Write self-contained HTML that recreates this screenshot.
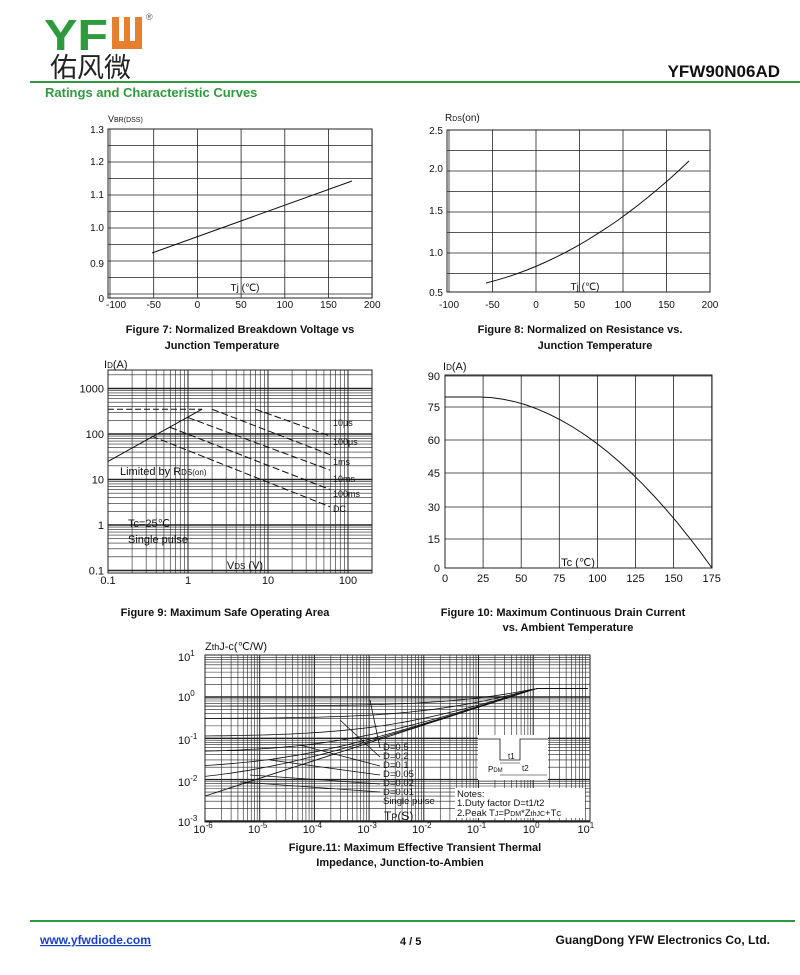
<!DOCTYPE html>
<html><head><meta charset="utf-8"><style>
body{margin:0;background:#fff;width:800px;height:975px;overflow:hidden;position:relative;font-family:"Liberation Sans",Arial,sans-serif}
svg{position:absolute;left:0;top:0}
</style></head><body>
<svg id="s" width="800" height="975" xmlns="http://www.w3.org/2000/svg" font-family="Liberation Sans, Arial, sans-serif">
<text x="44" y="50" font-size="44" font-weight="bold" fill="#2e9a3e" textLength="64" lengthAdjust="spacingAndGlyphs">YF</text>
<rect x="112" y="17" width="30" height="32" fill="#e87f2c"/>
<rect x="119" y="17" width="5" height="24" fill="#fff"/><rect x="130" y="17" width="5" height="24" fill="#fff"/>
<text x="146" y="20" font-size="9" fill="#555">®</text>
<text x="50" y="77" font-size="27" font-family="Noto Sans CJK SC, sans-serif" fill="#222">佑风微</text>
<rect x="30" y="81" width="770" height="2" fill="#2e9a3e"/>
<text x="780" y="77" font-size="17" font-weight="bold" text-anchor="end" fill="#111">YFW90N06AD</text>
<text x="45" y="97" font-size="13" font-weight="bold" fill="#2e9a3e">Ratings and Characteristic Curves</text>
<g font-size="11" font-weight="bold" text-anchor="middle" fill="#111">
<text x="240" y="333">Figure 7: Normalized Breakdown Voltage vs</text>
<text x="222" y="349">Junction Temperature</text>
<text x="580" y="333">Figure 8: Normalized on Resistance vs.</text>
<text x="595" y="349">Junction Temperature</text>
<text x="225" y="616">Figure 9: Maximum Safe Operating Area</text>
<text x="563" y="616">Figure 10: Maximum Continuous Drain Current</text>
<text x="568" y="631">vs. Ambient Temperature</text>
<text x="415" y="851">Figure.11: Maximum Effective Transient Thermal</text>
<text x="400" y="866">Impedance, Junction-to-Ambien</text>
</g>
<rect x="30" y="920" width="765" height="2" fill="#2e9a3e"/>
<text x="40" y="944" font-size="12" font-weight="bold" fill="#1a3fbf" text-decoration="underline">www.yfwdiode.com</text>
<text x="400" y="945" font-size="11" font-weight="bold" fill="#111">4 / 5</text>
<text x="770" y="944" font-size="12" font-weight="bold" text-anchor="end" fill="#111">GuangDong YFW Electronics Co, Ltd.</text>
<g id="g"></g>
</svg>
<script>
var g=document.getElementById('g'),o='';
function L(x1,y1,x2,y2,w,c,d){o+='<line x1="'+x1+'" y1="'+y1+'" x2="'+x2+'" y2="'+y2+'" stroke="'+(c||'#222')+'" stroke-width="'+(w||0.8)+'"'+(d?' stroke-dasharray="'+d+'"':'')+'/>';}
function T(x,y,t,s,a){o+='<text x="'+x+'" y="'+y+'" font-size="'+(s||11)+'" text-anchor="'+(a||'middle')+'" fill="#111">'+t+'</text>';}
function P(pts,w,d){o+='<polyline fill="none" stroke="#111" stroke-width="'+(w||1)+'"'+(d?' stroke-dasharray="'+d+'"':'')+' points="'+pts.map(p=>p[0].toFixed(1)+','+p[1].toFixed(1)).join(' ')+'"/>';}
function R(x1,y1,x2,y2){o+='<rect x="'+x1+'" y="'+y1+'" width="'+(x2-x1)+'" height="'+(y2-y1)+'" fill="none" stroke="#222" stroke-width="1"/>';}
// Fig7
var x0=108,x1=372,y0=129,y1=298;
for(var i=0;i<=6;i++){var x=110+i*43.7;L(x,y0,x,y1);T(x+(i==0?6:0),308,[-100,-50,0,50,100,150,200][i],10);}
for(var y=y0;y<=y1;y+=16.5)L(x0,y,x1,y);
R(x0,y0,x1,y1);
[[1.3,129],[1.2,161],[1.1,194],[1.0,227],[0.9,263],[0,298]].forEach(a=>T(104,a[1]+4,a[0]==0?'0':a[0].toFixed(1),10,'end'));
T(108,122,'V<tspan font-size="7">BR(DSS)</tspan>',9,'start');
L(152,253,352,181,1,'#111');T(245,291,'Tj (℃)',10);
// Fig8
x0=447;x1=710;y0=130;y1=292;
for(i=0;i<=6;i++){x=449+i*43.5;L(x,y0,x,y1);T(x,308,[-100,-50,0,50,100,150,200][i],10);}
for(y=y0;y<=y1;y+=20.5)L(x0,y,x1,y);
R(x0,y0,x1,y1);
[['2.5',130],['2.0',168],['1.5',210],['1.0',252],['0.5',292]].forEach(a=>T(443,a[1]+4,a[0],10,'end'));
T(445,121,'R<tspan font-size="7">DS</tspan>(on)',10,'start');
var pts=[];for(i=0;i<=20;i++){var t=i/20;pts.push([486+203*t,283-(50*t+72*t*t)]);}P(pts,1);
T(585,290,'Tj (℃)',10);
// Fig9
function X9(v){return 108+Math.log10(v/0.1)*80;}function Y9(v){return 525-Math.log10(v)*45.5;}
x0=108;x1=372;y0=370;y1=573;
for(var d=-1;d<3;d++)for(var k=1;k<10;k++){x=X9(k*Math.pow(10,d));if(x<=x1)L(x,y0,x,y1,k==1?1:0.6);}
for(d=-1;d<4;d++)for(k=1;k<10;k++){y=Y9(k*Math.pow(10,d));if(y>=y0&&y<=y1)L(x0,y,x1,y,k==1?1.6:0.6);}
R(x0,y0,x1,y1);
[['1000',1000],['100',100],['10',10],['1',1],['0.1',0.1]].forEach(a=>T(104,Y9(a[1])+4,a[0],11,'end'));
[['0.1',0.1],['1',1],['10',10],['100',100]].forEach(a=>T(X9(a[1]),584,a[0],11));
T(104,368,'I<tspan font-size="8">D</tspan>(A)',11,'start');
P([[X9(0.1),Y9(25)],[X9(1.5),Y9(350)]],1);
L(X9(0.1),Y9(350),X9(1.5),Y9(350),1,'#111','6,3');
[[7,350,60,90],[2,350,60,35],[1,230,60,16],[0.6,140,60,6],[0.35,90,60,2.5]].forEach(a=>L(X9(a[0]),Y9(a[1]),X9(a[2]),Y9(a[3]),1,'#111','7,3'));
[['10μs',426],['100μs',445],['1ms',465],['10ms',482],['100ms',497],['DC',512]].forEach(a=>T(333,a[1],a[0],9,'start'));
T(120,475,'Limited by R<tspan font-size="8">DS(on)</tspan>',11,'start');
T(128,527,'Tc=25℃',11,'start');T(128,543,'Single pulse',11,'start');
T(245,569,'V<tspan font-size="8">DS</tspan> (V)',11);
// Fig10
x0=445;x1=712;y0=375;y1=568;
for(i=0;i<=7;i++){x=445+i*38.1;L(x,y0,x,y1);T(x,582,i*25,11);}
[[90,376],[75,407],[60,440],[45,473],[30,507],[15,539],[0,568]].forEach(a=>{L(x0,a[1],x1,a[1]);T(440,a[1]+4,a[0],11,'end');});
R(x0,y0,x1,y1);
T(443,370,'I<tspan font-size="8">D</tspan>(A)',11,'start');
pts=[[445,397],[480,397]];for(i=1;i<=20;i++){t=i/20;pts.push([480+232*t,397+171*Math.pow(t,1.9)]);}P(pts,1);
T(578,566,'Tc (℃)',11);
// Fig11
function X(v){return 205+(Math.log10(v)+6)*54.7;}function Y(v){return 697-Math.log10(v)*41.3;}
x0=205;x1=590;y0=655;y1=822;
for(d=-6;d<1;d++)for(k=1;k<10;k++){x=X(k*Math.pow(10,d));L(x,y0,x,y1,k==1?1:0.6);}
for(d=-3;d<1;d++)for(k=1;k<10;k++){y=Y(k*Math.pow(10,d));L(x0,y,x1,y,k==1?1.4:0.6);}
R(x0,y0,x1,y1);
[['1',657],['0',697],['-1',740],['-2',782],['-3',822]].forEach(a=>T(178,a[1]+4,'10<tspan font-size="8" dy="-5">'+a[0]+'</tspan>',11,'start'));
for(d=-6;d<=1;d++)T(X(Math.pow(10,d))-2,833,'10<tspan font-size="8" dy="-5">'+d+'</tspan>',11);
T(205,650,'Z<tspan font-size="9">th</tspan>J-c(℃/W)',11,'start');
function Zsp(t){return Math.min(1.6,0.004*Math.pow(t/1e-6,0.43));}
pts=[];for(i=0;i<=60;i++){t=Math.pow(10,-6+i*7/60);pts.push([X(t),Y(Zsp(t))]);}P(pts,0.9);
[0.6,0.3,0.11,0.045,0.018,0.008].forEach(D=>{var p=[];for(i=0;i<=60;i++){t=Math.pow(10,-6+i*7/60);p.push([X(t),Y(Math.min(1.6,D+ (1-D/1.6)*Zsp(t)))]);}P(p,0.8);});
[[370,700,380,748],[340,720,380,757],[300,745,380,766],[270,760,380,775],[250,775,380,784],[240,782,380,792]].forEach(a=>L(a[0],a[1],a[2],a[3],0.8,'#111'));
['D=0.5','D=0.2','D=0.1','D=0.05','D=0.02','D=0.01','Single pulse'].forEach((s,j)=>T(383,750+j*9,s,9.5,'start'));
o+='<rect x="478" y="735" width="70" height="45" fill="#fff"/>';
P([[478,739],[500,739],[500,760],[520,760],[520,739],[548,739]],0.8);
T(488,772,'P<tspan font-size="6">DM</tspan>',8,'start');T(508,759,'t1',8,'start');T(522,771,'t2',8,'start');
L(500,763,520,763,0.6,'#111');L(500,775,547,775,0.6,'#111');
o+='<rect x="455" y="788" width="130" height="30" fill="#fff"/>';
T(457,797,'Notes:',9.5,'start');T(457,806,'1.Duty factor D=t1/t2',9.5,'start');T(457,816,'2.Peak T<tspan font-size="7">J</tspan>=P<tspan font-size="7">DM</tspan>*Z<tspan font-size="7">thJC</tspan>+T<tspan font-size="7">C</tspan>',9.5,'start');
T(384,820,'T<tspan font-size="9">P</tspan>(S)',12,'start');
g.innerHTML=o;
</script>
</body></html>
